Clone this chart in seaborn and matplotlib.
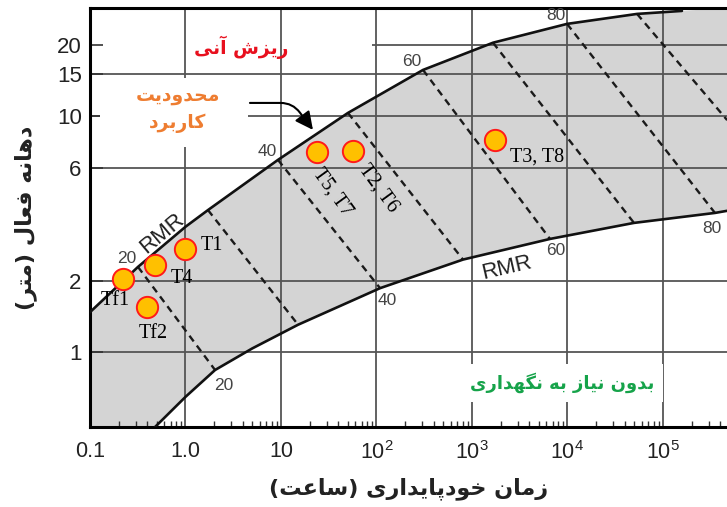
import matplotlib
matplotlib.use("Agg")
import matplotlib.pyplot as plt
import seaborn as sns
from matplotlib.patches import Rectangle
from matplotlib.ticker import LogLocator, NullLocator, FixedLocator, FixedFormatter

# ---------------- data ----------------
# upper RMR boundary (stand-up time in hours, active span in m)
upper_time = [0.1, 0.318, 1.0, 1.72, 9.3, 50.3, 307, 1660, 9890, 53500, 158000]
upper_span = [1.48, 2.30, 3.40, 4.00, 6.52, 10.3, 15.65, 20.4, 24.5, 27.0, 27.8]

# lower RMR boundary
lower_time = [0.48, 1.0, 2.04, 5.0, 15.1, 109, 805, 6560, 49700, 350000, 468000]
lower_span = [0.484, 0.649, 0.843, 1.04, 1.31, 1.87, 2.47, 3.02, 3.53, 3.89, 3.97]

# RMR contour lines between the two boundaries
rmr_values = [20, 30, 40, 50, 60, 70, 80, 90]
rmr_top_time = [0.318, 1.72, 9.3, 50.3, 307, 1660, 9890, 53500]
rmr_top_span = [2.30, 4.00, 6.52, 10.3, 15.65, 20.4, 24.5, 27.0]
rmr_bot_time = [2.04, 15.1, 109, 805, 6560, 49700, 350000, 470000]
rmr_bot_span = [0.843, 1.31, 1.87, 2.47, 3.02, 3.53, 3.89, 9.6]
rmr_labelled = [20, 40, 60, 80]

# tunnel sections
pt_labels = ["Tf1", "T4", "Tf2", "T1", "T5, T7", "T2, T6", "T3, T8"]
pt_time = [0.22, 0.48, 0.40, 1.0, 24, 57, 1740]
pt_span = [2.05, 2.34, 1.56, 2.73, 7.02, 7.11, 7.92]

x_ticks = [0.1, 1, 10, 100, 1000, 10000, 100000]
x_ticklabels = ["0.1", "1.0", "10", "$10^{2}$", "$10^{3}$", "$10^{4}$", "$10^{5}$"]
y_ticks = [1, 2, 6, 10, 15, 20]
y_ticklabels = ["1", "2", "6", "10", "15", "20"]
y_grid = [1, 2, 6, 10, 15]

x_limits = (0.1, 4.68e5)
y_limits = (0.484, 28.6)

# ---------------- Persian text shaping ----------------
_FORMS = {
    "ا": (0xFE8D, 0xFE8E), "آ": (0xFE81, 0xFE82),
    "ب": (0xFE8F, 0xFE90, 0xFE91, 0xFE92), "پ": (0xFB56, 0xFB57, 0xFB58, 0xFB59),
    "ت": (0xFE95, 0xFE96, 0xFE97, 0xFE98), "ح": (0xFEA1, 0xFEA2, 0xFEA3, 0xFEA4),
    "خ": (0xFEA5, 0xFEA6, 0xFEA7, 0xFEA8), "د": (0xFEA9, 0xFEAA),
    "ر": (0xFEAD, 0xFEAE), "ز": (0xFEAF, 0xFEB0),
    "س": (0xFEB1, 0xFEB2, 0xFEB3, 0xFEB4), "ش": (0xFEB5, 0xFEB6, 0xFEB7, 0xFEB8),
    "ع": (0xFEC9, 0xFECA, 0xFECB, 0xFECC), "ف": (0xFED1, 0xFED2, 0xFED3, 0xFED4),
    "ک": (0xFB8E, 0xFB8F, 0xFB90, 0xFB91), "گ": (0xFB92, 0xFB93, 0xFB94, 0xFB95),
    "ل": (0xFEDD, 0xFEDE, 0xFEDF, 0xFEE0), "م": (0xFEE1, 0xFEE2, 0xFEE3, 0xFEE4),
    "ن": (0xFEE5, 0xFEE6, 0xFEE7, 0xFEE8), "ه": (0xFEE9, 0xFEEA, 0xFEEB, 0xFEEC),
    "و": (0xFEED, 0xFEEE), "ی": (0xFBFC, 0xFBFD, 0xFBFE, 0xFBFF),
}


def _shape_line(text):
    def dual(c):
        return c in _FORMS and len(_FORMS[c]) == 4

    out = []
    for i, c in enumerate(text):
        if c not in _FORMS:
            out.append(c)
            continue
        f = _FORMS[c]
        prev = text[i - 1] if i > 0 else ""
        nxt = text[i + 1] if i + 1 < len(text) else ""
        jp = dual(prev)
        jn = dual(c) and nxt in _FORMS
        if jp and jn:
            g = f[3]
        elif jp:
            g = f[1]
        elif jn:
            g = f[2]
        else:
            g = f[0]
        out.append(chr(g))
    mirror = {"(": ")", ")": "("}
    return "".join(mirror.get(c, c) for c in reversed(out))


def fa(text):
    return "\n".join(_shape_line(line) for line in text.split("\n"))


# ---------------- style ----------------
sns.set_theme(style="white")
plt.rcParams["font.family"] = ["Liberation Sans", "DejaVu Sans"]
plt.rcParams["mathtext.fontset"] = "custom"
plt.rcParams["mathtext.rm"] = "Liberation Sans"
plt.rcParams["mathtext.it"] = "Liberation Sans"
plt.rcParams["mathtext.default"] = "regular"

FA_FONT = ["DejaVu Sans"]
GRID = "#555555"

fig = plt.figure(figsize=(7.27, 5.07), dpi=100)
ax = fig.add_axes([90 / 727, 80 / 507, 637 / 727, 419 / 507])
ax.set_xscale("log")
ax.set_yscale("log")
ax.set_xlim(*x_limits)
ax.set_ylim(*y_limits)
ax.set_axisbelow(True)

# shaded band between the RMR boundaries
x0, x1 = x_limits
y0, y1 = y_limits
band_x = upper_time + [x1] + lower_time[::-1] + [x0]
band_y = upper_span + [y1] + lower_span[::-1] + [y0]
ax.fill(band_x, band_y, color="#d4d4d4", lw=0, zorder=0.2)

# grid
ax.xaxis.set_major_locator(FixedLocator(x_ticks))
ax.xaxis.set_major_formatter(FixedFormatter(x_ticklabels))
ax.xaxis.set_minor_locator(LogLocator(base=10, subs=range(2, 10), numticks=30))
ax.grid(True, axis="x", which="major", color=GRID, lw=1.3)
for v in y_grid:
    ax.axhline(v, color=GRID, lw=1.3, zorder=0.5)
ax.hlines(y_ticks[-1], 90, x1, color=GRID, lw=1.3, zorder=0.5)

ax.yaxis.set_major_locator(FixedLocator(y_ticks))
ax.yaxis.set_major_formatter(FixedFormatter(y_ticklabels))
ax.yaxis.set_minor_locator(NullLocator())

# white panel behind the "limit of application" note
ax.add_patch(Rectangle((0.128, 7.4), 4.5 - 0.128, 14.4 - 7.4,
                       facecolor="white", edgecolor="none", zorder=0.6))

# RMR contours
low_label_offsets = {20: (6, -11), 40: (5, -9), 60: (4, -8), 80: (-2, -11)}
for v, ta, sa, tb, sb in zip(rmr_values, rmr_top_time, rmr_top_span,
                             rmr_bot_time, rmr_bot_span):
    ax.plot([ta, tb], [sa, sb], color="#1a1a1a", lw=1.7,
            linestyle=(0, (3.0, 2.2)), zorder=2)
    if v in rmr_labelled:
        ax.annotate(str(v), (ta, sa), xytext=(-8, 6), textcoords="offset points",
                    ha="center", va="center", fontsize=12.5, color="#444444", zorder=5)
        ax.annotate(str(v), (tb, sb), xytext=low_label_offsets[v],
                    textcoords="offset points", ha="center", va="center",
                    fontsize=12.5, color="#444444", zorder=5)

# boundary curves
sns.lineplot(x=upper_time, y=upper_span, sort=False, estimator=None,
             color="#111111", lw=1.9, ax=ax, zorder=3)
sns.lineplot(x=lower_time, y=lower_span, sort=False, estimator=None,
             color="#111111", lw=1.9, ax=ax, zorder=3)

ax.text(0.57, 3.2, "RMR", rotation=40, ha="center", va="center",
        fontsize=16, color="#222222", zorder=5)
ax.text(2300, 2.28, "RMR", rotation=13, ha="center", va="center",
        fontsize=16, color="#222222", zorder=5)

# tunnel sections
sns.scatterplot(x=pt_time, y=pt_span, s=235, color="#FFC000",
                edgecolor="#FF1A1A", linewidth=1.4, ax=ax, zorder=4)
label_offsets = {
    "Tf1": ((-5.5, -16), 0), "T4": ((19.5, -9.5), 0), "Tf2": ((4.5, -19), 0),
    "T1": ((19, 2.5), 0), "T5, T7": ((11, -29), -54), "T2, T6": ((18, -27), -54),
    "T3, T8": ((30, -12), 0),
}
for lab, t, s in zip(pt_labels, pt_time, pt_span):
    off, rot = label_offsets[lab]
    ax.annotate(lab, (t, s), xytext=off, textcoords="offset points",
                ha="center", va="center", rotation=rot, fontsize=14.5,
                family=["Liberation Serif"], color="black", zorder=5)

# zone notes
ax.text(0.237, 0.907, fa("ریزش آنی"), transform=ax.transAxes, ha="center",
        va="center", fontsize=13.5, fontweight="bold", color="#E8101E",
        family=FA_FONT, zorder=5)
ax.text(0.138, 0.757, fa("محدودیت\nکاربرد"), transform=ax.transAxes, ha="center",
        va="center", fontsize=13.5, fontweight="bold", color="#EE7D31",
        family=FA_FONT, linespacing=1.55, zorder=5)
ax.text(0.741, 0.105, fa("بدون نیاز به نگهداری"), transform=ax.transAxes,
        ha="center", va="center", fontsize=13, fontweight="bold", color="#16A34A",
        family=FA_FONT, zorder=5,
        bbox=dict(boxstyle="square,pad=0.5", facecolor="white", edgecolor="none"))

ax.annotate("", xy=(21.6, 8.73), xytext=(4.73, 11.35),
            arrowprops=dict(arrowstyle="-|>,head_length=0.9,head_width=0.45",
                            color="black", lw=1.5, shrinkA=0, shrinkB=0,
                            connectionstyle="angle,angleA=0,angleB=-53,rad=12"),
            zorder=5)

# axes styling
for side in ("left", "top", "bottom"):
    ax.spines[side].set_color("black")
    ax.spines[side].set_linewidth(2.2)
ax.spines["right"].set_visible(False)
ax.tick_params(axis="x", which="major", length=0, pad=10, labelsize=15.5,
               labelcolor="#222222")
ax.tick_params(axis="x", which="minor", bottom=True, top=False, direction="in",
               length=4, width=1.0, color="#333333")
ax.tick_params(axis="y", which="major", left=True, direction="in", length=9,
               width=1.2, color="#333333", pad=6, labelsize=16, labelcolor="#222222")

ax.set_xlabel(fa("زمان خودپایداری (ساعت)"), family=FA_FONT, fontweight="bold",
              fontsize=16, color="#222222", labelpad=10)
ax.set_ylabel(fa("دهانه فعال (متر)"), family=FA_FONT, fontweight="bold",
              fontsize=16, color="#222222", labelpad=14)

fig.savefig("out.png", dpi=100)
